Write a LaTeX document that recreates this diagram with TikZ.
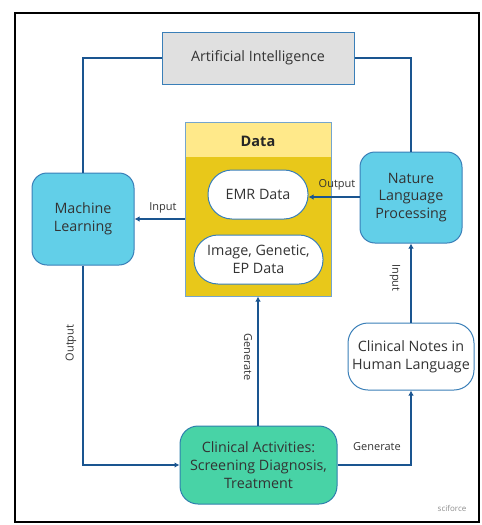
\documentclass[tikz,border=0pt]{standalone}
\usepackage{fontspec}
\setmainfont{Open Sans}
\usetikzlibrary{arrows.meta}
\definecolor{lineblue}{HTML}{1A5590}
\definecolor{boxcyan}{HTML}{62CFE8}
\definecolor{boxedge}{HTML}{3A7FB8}
\definecolor{aigrey}{HTML}{E0E0E0}
\definecolor{datahead}{HTML}{FFE98A}
\definecolor{databody}{HTML}{E8C81A}
\definecolor{cagreen}{HTML}{48D3A6}
\definecolor{txt}{HTML}{333333}
\tikzset{
  conn/.style={draw=lineblue, line width=2.3pt},
  arr/.style={conn, -{Latex[length=5pt,width=5.5pt]}},
  cyanbox/.style={draw=boxedge, line width=1pt, fill=boxcyan, rounded corners=15pt, align=center, text=txt, font=\fontsize{14.3}{17.8}\selectfont},
  pill/.style={draw=boxedge, line width=1pt, fill=white, rounded corners=23pt, align=center, text=txt, font=\fontsize{14.3}{17.8}\selectfont},
  lbl/.style={text=txt, font=\fontsize{11}{12}\selectfont, inner sep=1pt}
}
\begin{document}
\begin{tikzpicture}[x=1pt,y=-1pt]
\useasboundingbox (0,0) rectangle (482,525);
\draw[line width=2.2pt, black] (15,13) rectangle (479,522);
% nodes
\node[draw=boxedge, line width=1pt, fill=aigrey, minimum width=192pt, minimum height=52pt, text=txt, font=\fontsize{14.3}{17}\selectfont] (ai) at (258,58) {Artificial Intelligence};
\node[draw=boxedge!70, line width=1pt, fill=databody, minimum width=146pt, minimum height=174pt, inner sep=0pt] (data) at (258,209) {};
\fill[datahead] (185.5,122.5) rectangle (330.5,157);
\draw[boxedge!70, line width=1pt] (185,122) rectangle (331,296);
\node[text=black!85, font=\bfseries\fontsize{14.5}{16}\selectfont] (datalbl) at (258,141) {Data};
\node[pill, minimum width=100pt, minimum height=49pt, rounded corners=24pt, inner sep=1pt] (emr) at (258,194.5) {EMR Data};
\node[pill, minimum width=129pt, minimum height=49pt, rounded corners=24pt, inner sep=1pt] (img) at (258.5,259.5) {Image, Genetic,\\EP Data};
\node[cyanbox, minimum width=102pt, minimum height=92pt, inner sep=1pt] (ml) at (83,219) {Machine\\Learning};
\node[cyanbox, minimum width=102pt, minimum height=91pt, inner sep=1pt] (nlp) at (411,197.5) {Nature\\Language\\Processing};
\node[pill, minimum width=126pt, minimum height=67pt, rounded corners=20pt, inner sep=1pt] (notes) at (411,356.5) {Clinical Notes in\\Human Language};
\node[cyanbox, fill=cagreen, draw=boxedge!80!teal, minimum width=157pt, minimum height=78pt, rounded corners=18pt, inner sep=1pt] (ca) at (258.5,465) {Clinical Activities:\\Screening Diagnosis,\\Treatment};
% connectors
\draw[conn] (ai.west) -| (ml.north);
\draw[conn] (ai.east) -| (nlp.north);
\draw[arr] (nlp.west |- 0,197) -- (emr.east |- 0,197);
\draw[arr] (data.west |- ml.east) -- (ml.east);
\draw[arr] (ca.north -| data.south) -- (data.south);
\draw[arr] (ml.south) |- (ca.west);
\draw[arr] (ca.east) -| (notes.south);
\draw[arr] (notes.north) -- (nlp.south);
% labels
\node[lbl] (l1) at (337,185) {Output};
\node[lbl] (l2) at (163,208) {Input};
\node[lbl, rotate=-90] (l3) at (395,278) {Input};
\node[lbl, rotate=-90] (l4) at (248,357) {Generate};
\node[lbl, rotate=90] (l5) at (71,343) {Output};
\node[lbl] (l6) at (377,447) {Generate};
\node[text=black!45, font=\fontsize{8}{9}\selectfont] (logo) at (452,508) {sciforce};
\end{tikzpicture}
\end{document}
